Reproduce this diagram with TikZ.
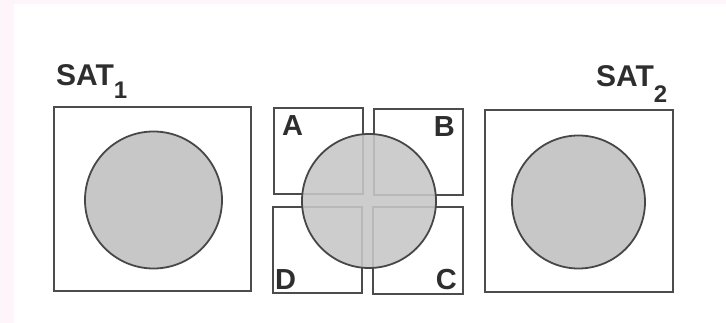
\documentclass[tikz,border=0pt]{standalone}
\usepackage{fontspec}
\setmainfont{Liberation Sans}
\begin{document}
\begin{tikzpicture}[x=1pt,y=-1pt,
  frame/.style={draw=black!70, line width=1.4pt, fill=none, inner sep=0pt, rectangle},
  disc/.style={draw=black!72, line width=1.8pt, fill=black!22, circle, inner sep=0pt},
  tdisc/.style={disc, fill opacity=0.88},
  lbl/.style={inner sep=0pt, font=\fontsize{29}{32}\selectfont\bfseries, text=black!82},
  sat/.style={inner sep=0pt, font=\fontsize{30}{32}\selectfont\bfseries, text=black!82}]
\useasboundingbox (0,0) rectangle (726,323);
\fill[white] (0,0) rectangle (726,323);
\fill[black!8!magenta!4] (0,0) rectangle (14,323);
\fill[black!8!magenta!4] (0,0) rectangle (726,4);
% left
\node[frame, minimum width=197pt, minimum height=184pt] (box1) at (152.5,199) {};
\node[disc, minimum size=137pt] (c1) at (153.5,200) {};
\node[sat, anchor=base west] (sat1) at (56,86) {SAT\raisebox{-13pt}{\fontsize{24}{26}\selectfont 1}};
% centre
\node[frame, minimum width=89pt, minimum height=86pt] (bA) at (318.5,151) {};
\node[frame, minimum width=89pt, minimum height=86pt] (bB) at (418.5,152) {};
\node[frame, minimum width=89pt, minimum height=86pt] (bD) at (317.5,250) {};
\node[frame, minimum width=90pt, minimum height=87pt] (bC) at (418,250.5) {};
\node[tdisc, minimum size=134pt] (c2) at (369,201) {};
\node[lbl, anchor=north west] (lA) at (282,115) {A};
\node[lbl, anchor=north east] (lB) at (455,116) {B};
\node[lbl, anchor=south west] (lD) at (275,290) {D};
\node[lbl, anchor=south east] (lC) at (457,290) {C};
% right
\node[frame, minimum width=188pt, minimum height=182pt] (box2) at (579,201) {};
\node[disc, minimum size=133pt] (c3) at (578.5,202) {};
\node[sat, anchor=base west] (sat2) at (596,87) {SAT\raisebox{-16pt}{\fontsize{24}{26}\selectfont 2}};
\end{tikzpicture}
\end{document}
